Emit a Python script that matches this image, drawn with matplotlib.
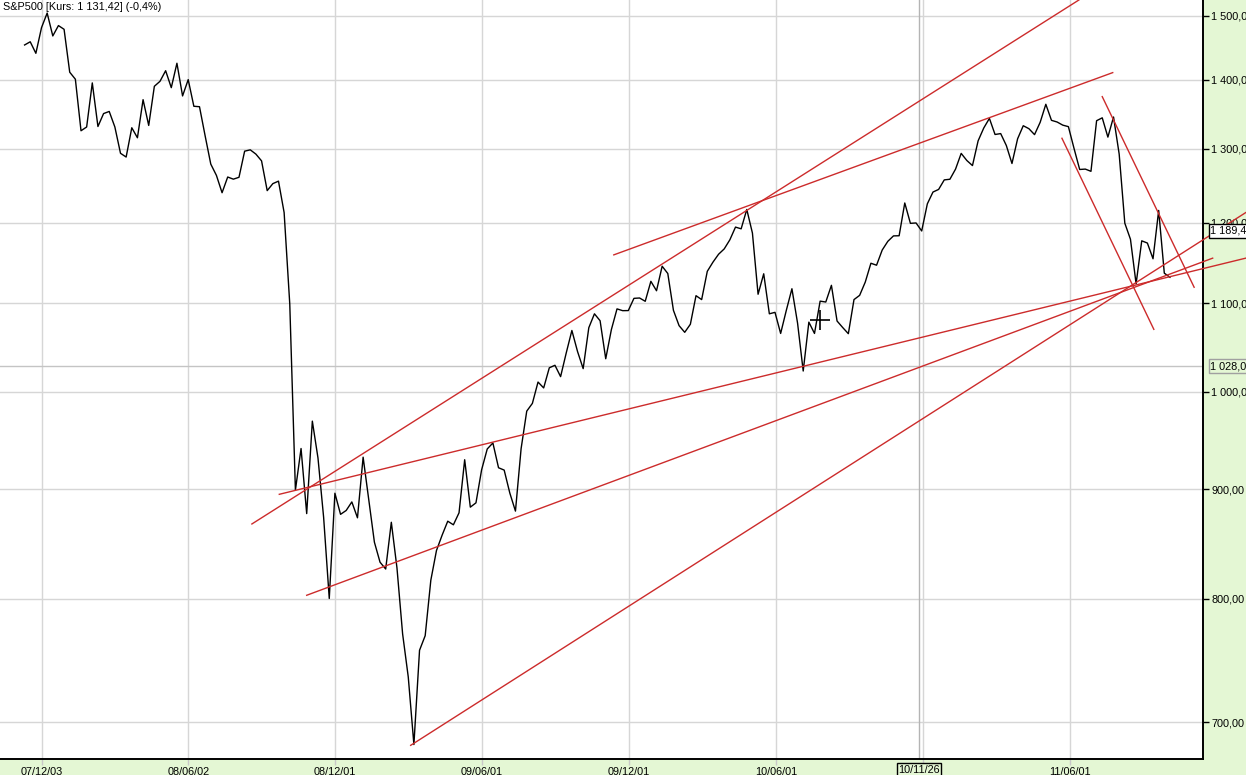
import matplotlib
matplotlib.use('Agg')
import matplotlib.pyplot as plt
import matplotlib.dates as mdates
import matplotlib.transforms as mtrans
from matplotlib.ticker import FixedLocator, FuncFormatter, NullLocator
import pandas as pd

# ---------------- data ----------------
first_week = '2007-11-12'   # weekly points (plotted at start of following week)
closes = [
    1453.70, 1458.74, 1440.70, 1481.14, 1504.66, 1467.95, 1484.46, 1478.49,
    # 2008
    1411.63, 1401.02, 1325.19, 1330.61,
    1395.42, 1331.29, 1349.99, 1353.11, 1330.63,
    1293.37, 1288.14, 1329.51, 1315.22,
    1370.40, 1332.83, 1390.33, 1397.84,
    1413.90, 1388.28, 1425.35, 1375.93, 1400.38,
    1360.68, 1360.03, 1317.93, 1278.38,
    1262.90, 1239.49, 1260.68, 1257.76,
    1260.31, 1296.32, 1298.20, 1292.20, 1282.83,
    1242.31, 1251.70, 1255.08, 1213.27,
    1099.23, 899.22, 940.55, 876.77, 968.75,
    930.99, 873.29, 800.03, 896.24,
    876.07, 879.73, 887.88, 872.80,
    # 2009
    931.80, 890.35, 850.12, 831.95, 825.88,
    868.60, 826.84, 770.05, 735.09,
    683.38, 756.55, 768.54, 815.94,
    842.50, 856.56, 869.60, 866.23,
    877.52, 929.23, 882.88, 887.00, 919.14,
    940.09, 946.21, 921.23, 918.90,
    896.42, 879.13, 940.38, 979.26, 987.48,
    1010.48, 1004.09, 1026.13, 1028.93,
    1016.40, 1042.73, 1068.30, 1044.38,
    1025.21, 1071.49, 1087.68, 1079.60, 1036.19,
    1069.30, 1093.48, 1091.38, 1091.49,
    1105.98, 1106.41, 1102.47, 1126.48, 1115.10,
    # 2010
    1144.98, 1136.03, 1091.76, 1073.87,
    1066.19, 1075.51, 1109.17, 1104.49,
    1138.70, 1149.99, 1159.90, 1166.59,
    1178.10, 1194.37, 1192.13, 1217.28, 1186.69,
    1110.88, 1135.68, 1087.69, 1089.41,
    1064.88, 1091.60, 1117.51, 1076.76,
    1022.58, 1077.96, 1064.88, 1102.66, 1101.60,
    1121.64, 1079.25, 1071.69, 1064.59,
    1104.51, 1109.55, 1125.59, 1148.67,
    1146.24, 1165.15, 1176.19, 1183.08, 1183.26,
    1225.85, 1199.21, 1199.73, 1189.40,
    1224.71, 1240.40, 1243.91, 1256.77, 1257.64,
    # 2011
    1271.50, 1293.24, 1283.35, 1276.34,
    1310.87, 1329.15, 1343.01, 1319.88,
    1321.15, 1304.28, 1279.20, 1313.80,
    1332.41, 1328.17, 1319.68, 1337.38, 1363.61,
    1340.20, 1337.77, 1333.27, 1331.10,
    1300.16, 1270.98, 1271.50, 1268.45,
    1339.67, 1343.80, 1316.14, 1345.02, 1292.28,
    1199.38, 1178.81, 1123.53, 1176.80,
    1173.97, 1154.23, 1216.01, 1136.43, 1131.42,
]

x_tick_dates = ['2007-12-03', '2008-06-02', '2008-12-01', '2009-06-01',
                '2009-12-01', '2010-06-01', '2010-12-01', '2011-06-01']
x_tick_labels = ['07/12/03', '08/06/02', '08/12/01', '09/06/01',
                 '09/12/01', '10/06/01', '', '11/06/01']
y_ticks = [700, 800, 900, 1000, 1100, 1200, 1300, 1400, 1500]

# trend lines (start date, start value, end date, end value)
trend_start_dates = ['2008-08-20', '2009-11-12', '2008-09-23', '2008-10-27',
                     '2009-03-05', '2011-05-22', '2011-07-11']
trend_start_vals = [867.0, 1159.1, 895.2, 802.8, 682.8, 1314.5, 1374.9]
trend_end_dates = ['2011-06-12', '2011-07-24', '2012-01-05', '2011-11-25',
                   '2012-01-05', '2011-09-13', '2011-11-02']
trend_end_vals = [1526.0, 1411.0, 1155.0, 1155.0, 1213.2, 1069.6, 1119.3]

cross_date = '2010-11-26'
cross_value = 1189.40
hline_value = 1028.04
cursor_date, cursor_value = '2010-07-26', 1080.5

title = 'S&P500 [Kurs: 1 131,42] (-0,4%)'

# ---------------- figure ----------------
W, H = 1246, 775
FONT = 'Liberation Sans'
GREEN = '#e4f7d4'
fig = plt.figure(figsize=(W / 100, H / 100), dpi=100, facecolor=GREEN)
ax = fig.add_axes([0, 16 / H, 1203 / W, 759 / H])
ax.set_facecolor('white')

dates = pd.date_range(first_week, periods=len(closes), freq='W-MON')
ax.plot(dates, closes, color='black', lw=1.0, zorder=4)

ax.set_yscale('log')
ax.set_ylim(672.8, 1526.0)
x0 = mdates.date2num(pd.Timestamp('2007-12-03')) - 51.5
x1 = mdates.date2num(pd.Timestamp('2011-06-01')) + 165.0
ax.set_xlim(x0, x1)

# y axis on right
ax.yaxis.tick_right()
ax.yaxis.set_major_locator(FixedLocator(y_ticks))
ax.yaxis.set_minor_locator(NullLocator())
ax.yaxis.set_major_formatter(FuncFormatter(
    lambda v, p: f"{v:,.2f}".replace(',', ' ').replace('.', ',')))
ax.tick_params(axis='y', length=4, width=1, pad=2, labelsize=7.8,
               colors='black')

# x axis
ax.set_xticks([mdates.date2num(pd.Timestamp(d)) for d in x_tick_dates])
ax.set_xticklabels(x_tick_labels)
ax.xaxis.set_minor_locator(NullLocator())
ax.tick_params(axis='x', length=4, width=1, pad=1.5, labelsize=7.8,
               color='#c8c8c8', labelcolor='black')

for lab in ax.get_xticklabels() + ax.get_yticklabels():
    lab.set_fontfamily(FONT)

ax.grid(True, color='#d6d6d6', lw=1, zorder=0)
ax.set_axisbelow(True)
for s in ['left', 'top']:
    ax.spines[s].set_visible(False)
for s in ['right', 'bottom']:
    ax.spines[s].set_color('black')
    ax.spines[s].set_linewidth(1.4)

# crosshair lines
ax.axvline(pd.Timestamp(cross_date), color='#b4b4b4', lw=1, zorder=1)
ax.axhline(hline_value, color='#c4c4c4', lw=1, zorder=1)

# trend lines
for sd, sv, ed, ev in zip(trend_start_dates, trend_start_vals,
                          trend_end_dates, trend_end_vals):
    ax.plot([pd.Timestamp(sd), pd.Timestamp(ed)], [sv, ev],
            color='#cc2b2b', lw=1.0, clip_on=False, zorder=5)

# cursor cross
ax.plot(pd.Timestamp(cursor_date), cursor_value, marker='+', ms=15,
        mew=1.2, color='black', zorder=6)

# labels on the right axis
ytrans = mtrans.blended_transform_factory(ax.transAxes, ax.transData)
ax.text(1.006, cross_value, '1 189,40', transform=ytrans, ha='left',
        va='center', fontsize=7.8, family=FONT, zorder=7, clip_on=False,
        bbox=dict(boxstyle='square,pad=0.15', fc='white', ec='black', lw=1))
ax.text(1.006, hline_value, '1 028,04', transform=ytrans, ha='left',
        va='center', fontsize=7.8, family=FONT, zorder=7, clip_on=False,
        bbox=dict(boxstyle='square,pad=0.15', fc=GREEN, ec='#a0a0a0',
                  lw=1))

# boxed date label
xtrans = mtrans.blended_transform_factory(ax.transData, ax.transAxes)
ax.text(pd.Timestamp(cross_date), -0.0075, '10/11/26', transform=xtrans,
        ha='center', va='top', fontsize=7.8, family=FONT, clip_on=False,
        bbox=dict(boxstyle='square,pad=0.12', fc=GREEN, ec='black',
                  lw=1))

fig.text(3 / W, 1 - 7 / H, title, ha='left', va='center', fontsize=7.8,
         family=FONT)

fig.savefig('out.png', dpi=100, facecolor=fig.get_facecolor())
